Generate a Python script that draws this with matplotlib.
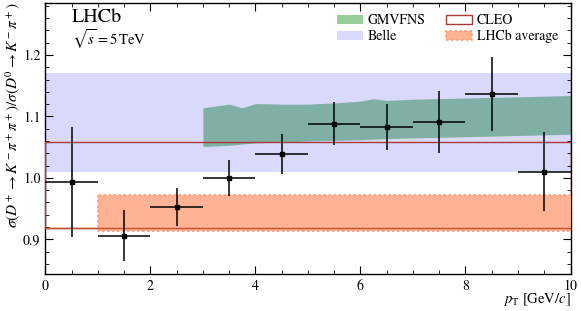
#!/usr/bin/env python3

import numpy as np
import matplotlib.pyplot as plt
from matplotlib.patches import Patch

# measured ratio in pT bins
pt = [0.5, 1.5, 2.5, 3.5, 4.5, 5.5, 6.5, 7.5, 8.5, 9.5]
pt_err = [0.5] * 10
ratio = [0.993, 0.906, 0.953, 1.000, 1.039, 1.088, 1.083, 1.091, 1.137, 1.010]
ratio_err = [0.089, 0.041, 0.031, 0.029, 0.032, 0.035, 0.037, 0.050, 0.060, 0.064]

# GMVFNS prediction band
gm_pt = [3.0, 3.5, 3.75, 4.0, 4.5, 5.0, 5.5, 6.0, 6.25, 6.5, 7.0, 8.0, 9.0, 10.0]
gm_hi = [1.114, 1.120, 1.114, 1.121, 1.120, 1.120, 1.122, 1.125, 1.129, 1.126, 1.128, 1.130, 1.132, 1.134]
gm_lo = [1.051, 1.053, 1.055, 1.057, 1.058, 1.060, 1.061, 1.062, 1.063, 1.064, 1.065, 1.067, 1.069, 1.071]

belle = (1.010, 1.170)
cleo = (0.918, 1.059)
lhcb_avg = (0.913, 0.972)

plt.rcParams['font.family'] = 'STIXGeneral'
plt.rcParams['mathtext.fontset'] = 'stix'

def main():
    fig = plt.figure(figsize=(5.81, 3.11), dpi=100)
    ax = fig.add_axes([0.078, 0.118, 0.904, 0.873])

    ax.fill_between([0, 10], belle[0], belle[1], color='#d9d9fb', lw=0, zorder=1)
    ax.fill_between(gm_pt, gm_lo, gm_hi, color='#80b0a5', lw=0, zorder=2)
    ax.fill_between([0, 10], cleo[0], cleo[1], facecolor='none', edgecolor='#a83a3a', lw=1.0, zorder=3)
    ax.fill_between([1, 10], lhcb_avg[0], lhcb_avg[1], facecolor='#ffb394', edgecolor='#ff9c78',
                    lw=1.2, linestyle=(0, (1.5, 1.5)), zorder=4)
    ax.plot([0, 10], [cleo[0], cleo[0]], color='#c0502f', lw=1.0, zorder=4)

    ax.errorbar(pt, ratio, xerr=pt_err, yerr=ratio_err, fmt='s', color='black', ms=3,
                elinewidth=1.1, capsize=0, zorder=6)

    ax.set_xlim(0, 10)
    ax.set_ylim(0.843, 1.285)
    ax.set_xticks([0, 2, 4, 6, 8, 10])
    ax.set_xticks(np.arange(0, 10.01, 0.5), minor=True)
    ax.set_yticks([0.9, 1.0, 1.1, 1.2])
    ax.set_yticks(np.arange(0.86, 1.285, 0.02), minor=True)
    ax.tick_params(which='both', direction='in', top=True, right=True, labelsize=10)
    ax.tick_params(which='major', length=6)
    ax.tick_params(which='minor', length=3)
    for s in ax.spines.values():
        s.set_linewidth(1.0)

    ax.set_ylabel(r'$\sigma(D^+\to K^-\pi^+\pi^+)/\sigma(D^0\to K^-\pi^+)$', loc='top',
                  fontsize=11, labelpad=1)
    ax.set_xlabel(r'$p_{\mathrm{T}}$ [GeV/$c$]', loc='right', fontsize=10.5, labelpad=-1)

    ax.text(0.051, 0.93, 'LHCb', transform=ax.transAxes, fontsize=14.5, va='baseline')
    ax.text(0.051, 0.845, r'$\sqrt{s}=5\,$TeV', transform=ax.transAxes, fontsize=10.5, va='baseline')

    handles = [Patch(facecolor='#98cc98', edgecolor='none', label='GMVFNS'),
               Patch(facecolor='#d9d9fb', edgecolor='none', label='Belle'),
               Patch(facecolor='none', edgecolor='#a83a3a', lw=1.0, label='CLEO'),
               Patch(facecolor='#ffb394', edgecolor='#ff9c78', lw=1.2, linestyle=(0, (1.5, 1.5)),
                     label='LHCb average')]
    ax.legend(handles=handles, ncol=2, loc='upper right', bbox_to_anchor=(0.997, 1.0), frameon=False,
              fontsize=10, handlelength=1.9, handleheight=0.65, labelspacing=0.2,
              columnspacing=1.5, handletextpad=0.3, borderpad=0.3)

    fig.savefig('out.png', dpi=100)

if __name__ == "__main__":
    main()
